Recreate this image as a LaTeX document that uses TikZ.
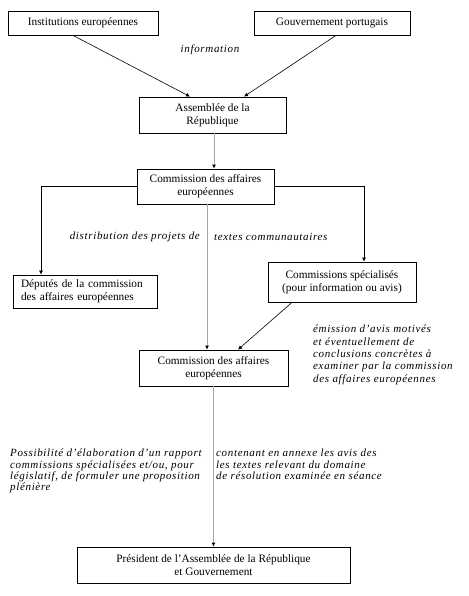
\documentclass[tikz,border=0pt]{standalone}
\usepackage{fontspec}
\setmainfont{Liberation Serif}
\newfontfamily\lblfont[LetterSpace=6]{Liberation Serif}
\usetikzlibrary{arrows.meta,calc}
\begin{document}
\begin{tikzpicture}[x=1pt,y=-1pt,
  box/.style={draw=black,line width=0.8pt,inner sep=1pt,font=\fontsize{11.3}{13}\selectfont,align=center},
  lbl/.style={font=\lblfont\fontsize{11}{12.3}\selectfont\itshape,inner sep=0pt},
  arr/.style={line width=0.6pt,-{Latex[length=4pt,width=4pt]}},
  garr/.style={draw=gray!70,line width=1pt,-{Latex[length=4pt,width=4pt,color=black]}}]
\useasboundingbox (0,0) rectangle (468,596);
\node[box,minimum width=150pt,minimum height=24pt] (inst) at (83,23) {Institutions européennes};
\node[box,minimum width=156pt,minimum height=24pt] (gouv) at (332,23) {Gouvernement portugais};
\node[box,minimum width=147pt,minimum height=36pt] (asm) at (212.5,115) {Assemblée de la\\République};
\node[box,minimum width=137pt,minimum height=35pt] (cae1) at (205.5,186.5) {Commission des affaires\\européennes};
\node[box,minimum width=144pt,minimum height=33pt,align=left,text width=128pt] (dep) at (85,291.5) {Députés de la commission\\des affaires européennes};
\node[box,minimum width=148pt,minimum height=40pt] (spec) at (342,282) {Commissions spécialisés\\(pour information ou avis)};
\node[box,minimum width=149pt,minimum height=36pt] (cae2) at (213.5,368) {Commission des affaires\\européennes};
\node[box,minimum width=273pt,minimum height=36pt] (pres) at (213.5,565) {Président de l’Assemblée de la République\\et Gouvernement};

\node[lbl] (info) at (210,50) {information};
\node[lbl,anchor=east] (dist1) at (200,237) {distribution des projets de};
\node[lbl,anchor=west] (dist2) at (214,237) {textes communautaires};
\node[lbl,anchor=north west,align=left] (emis) at (313,325) {émission d’avis motivés\\et éventuellement de\\conclusions concrètes à\\examiner par la commission\\des affaires européennes};
\node[lbl,anchor=north west,align=left,font=\lblfont\fontsize{11}{11.3}\selectfont\itshape] (poss1) at (10,449) {Possibilité d’élaboration d’un rapport\\commissions spécialisées et/ou, pour\\législatif, de formuler une proposition\\plénière};
\node[lbl,anchor=north west,align=left,font=\lblfont\fontsize{11}{11.3}\selectfont\itshape] (poss2) at (216,449) {contenant en annexe les avis des\\les textes relevant du domaine\\de résolution examinée en séance};

\draw[arr] ($(inst.south)+(-10,0)$) -- ($(asm.north)+(-22.5,0)$);
\draw[arr] ($(gouv.south)+(4,0)$) -- ($(asm.north)+(31.5,0)$);
\coordinate (a1) at ($(asm.south)+(1.5,0)$);
\draw[garr] (a1) -- (a1 |- cae1.north);
\coordinate (c1) at ($(cae1.south)+(1.5,0)$);
\draw[garr] (c1) -- (c1 |- cae2.north);
\draw[garr] (cae2.south) -- (pres.north);
\draw[arr] (cae1.west) -| ($(dep.north)+(-44,0)$);
\draw[arr] (cae1.east) -| ($(spec.north)+(22,0)$);
\draw[arr] ($(spec.south)+(-50,0)$) -- ($(cae2.north)+(24.5,0)$);
\end{tikzpicture}
\end{document}
